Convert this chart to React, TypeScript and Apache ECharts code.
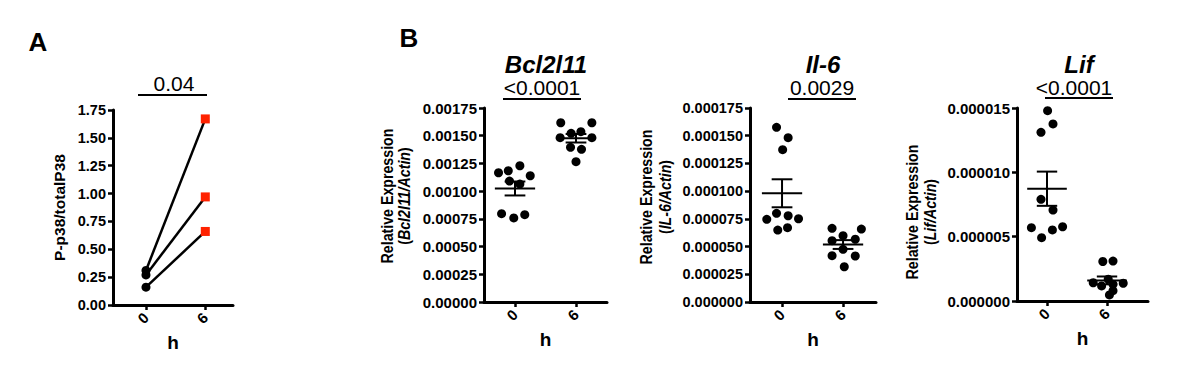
import React, { useEffect, useRef } from "react";
import * as echarts from "echarts";

// ---------- data ----------
const hours = ["0", "6"];

// Panel A: P-p38 / total P38, paired samples
const p38At0h = [0.31, 0.27, 0.16];
const p38At6h = [1.67, 0.97, 0.66];
const pValueA = "0.04";

// Panel B: Bcl2l11
const bcl0h = [0.001166, 0.001184, 0.001229, 0.001139, 0.001091, 0.001064, 0.000797, 0.000758, 0.000788];
const bcl0hJitter = [-0.27, -0.11, 0.08, 0.25, -0.09, 0.08, -0.22, -0.02, 0.16];
const bcl6h = [0.001617, 0.001617, 0.001522, 0.001536, 0.001482, 0.001482, 0.001395, 0.001377, 0.001266];
const bcl6hJitter = [-0.25, 0.26, -0.08, 0.08, -0.26, 0.26, -0.09, 0.09, 0];

// Panel B: Il-6
const il0h = [0.0001576, 0.0001482, 0.0001374, 0.0000746, 0.00008, 0.0000778, 0.0000751, 0.0000649, 0.000067];
const il0hJitter = [-0.09, 0.1, 0.01, -0.25, -0.09, 0.1, 0.27, -0.07, 0.09];
const il6h = [0.0000665, 0.0000658, 0.0000598, 0.0000566, 0.0000553, 0.0000475, 0.0000418, 0.0000415, 0.0000318];
const il6hJitter = [-0.18, 0.3, 0, 0.2, -0.18, 0, -0.18, 0.2, 0.02];

// Panel B: Lif
const lif0h = [0.00001479, 0.00001376, 0.00001311, 0.0000079, 0.00000707, 0.0000057, 0.00000492, 0.00000552, 0.00000577];
const lif0hJitter = [0.01, 0.1, -0.1, -0.1, 0.1, -0.26, -0.09, 0.09, 0.26];
const lif6h = [0.00000307, 0.0000031, 0.00000142, 0.00000117, 0.0000013, 0.00000138, 0.00000047, 0.0000008, 0.00000169];
const lif6hJitter = [-0.07, 0.1, -0.23, -0.09, 0.1, 0.27, 0.04, 0.1, 0.02];

const geneNames = ["Bcl2l11", "Il-6", "Lif"];
const geneAxisNames = ["Bcl2l11/Actin", "IL-6/Actin", "Lif/Actin"];
const pValuesB = ["<0.0001", "0.0029", "<0.0001"];

// y axis scales (tick labels)
const yMaxes = [1.75, 0.00175, 0.000175, 0.000015];
const yIntervals = [0.25, 0.00025, 0.000025, 0.000005];
const yDecimals = [2, 5, 6, 6];

// ---------- helpers ----------
const FONT = "'Liberation Sans', Arial, Helvetica, sans-serif";
const mean = (a: number[]) => a.reduce((s, v) => s + v, 0) / a.length;
const sem = (a: number[]) => {
  const m = mean(a);
  const v = a.reduce((s, x) => s + (x - m) * (x - m), 0) / (a.length - 1);
  return Math.sqrt(v / a.length);
};

// layout
const grids = [
  { left: 113, top: 110, width: 120, height: 195 },
  { left: 484, top: 108, width: 123, height: 194 },
  { left: 750, top: 108, width: 126, height: 194 },
  { left: 1017, top: 108, width: 131, height: 193 },
];
const xRanges = [
  [-0.556, 1.467],
  [-0.508, 1.508],
  [-0.525, 1.54],
  [-0.5, 1.683],
];
// y-axis title positions for panels B (line 1 x, line 2 x, centre y)
const yTitlePos = [
  [387, 404, 196],
  [646, 665, 197],
  [912, 930, 212],
];

export default function App() {
  const ref = useRef<HTMLDivElement>(null);
  useEffect(() => {
    document.body.style.margin = "0";
    if (!ref.current) return;
    const chart = echarts.init(ref.current, undefined, { renderer: "svg" });

    const xAxis = grids.map((_, i) => ({
      type: "value",
      gridIndex: i,
      min: xRanges[i][0],
      max: xRanges[i][1],
      splitLine: { show: false },
      axisLine: { onZero: false, lineStyle: { color: "#000", width: 3 } },
      axisTick: { customValues: [0, 1], length: 5, lineStyle: { color: "#000", width: 2.5 } },
      axisLabel: {
        customValues: [0, 1],
        formatter: (v: number) => hours[Math.round(v)],
        rotate: 45,
        fontSize: 15,
        fontWeight: "bold",
        color: "#000",
        fontFamily: FONT,
        margin: 10,
      },
      name: "h",
      nameLocation: "middle",
      nameGap: 28,
      nameTextStyle: { fontSize: 19, fontWeight: "bold", color: "#000", fontFamily: FONT },
    }));

    const yAxis = grids.map((_, i) => ({
      type: "value",
      gridIndex: i,
      min: 0,
      max: yMaxes[i],
      interval: yIntervals[i],
      splitLine: { show: false },
      axisLine: { show: true, onZero: false, lineStyle: { color: "#000", width: 3 } },
      axisTick: { show: true, length: 5, lineStyle: { color: "#000", width: 2.5 } },
      axisLabel: {
        formatter: (v: number) => v.toFixed(yDecimals[i]),
        fontSize: i === 0 || i === 2 ? 14.5 : 15,
        fontWeight: "bold",
        color: "#000",
        fontFamily: FONT,
        margin: 7,
      },
      ...(i === 0
        ? {
            name: "P-p38/totalP38",
            nameLocation: "middle",
            nameRotate: 90,
            nameGap: 46,
            nameTextStyle: { fontSize: 15.5, fontWeight: "bold", color: "#000", fontFamily: FONT },
          }
        : {}),
    }));

    const series: any[] = [];
    // Panel A paired lines
    p38At0h.forEach((v, k) => {
      series.push({
        type: "line",
        xAxisIndex: 0,
        yAxisIndex: 0,
        data: [
          [0, v],
          [1, p38At6h[k]],
        ],
        symbol: "none",
        lineStyle: { color: "#000", width: 2.5 },
        z: 2,
      });
    });
    series.push({
      type: "scatter",
      xAxisIndex: 0,
      yAxisIndex: 0,
      data: p38At0h.map((v) => [0, v]),
      symbol: "circle",
      symbolSize: 9,
      itemStyle: { color: "#000", opacity: 1 },
      z: 3,
    });
    series.push({
      type: "scatter",
      xAxisIndex: 0,
      yAxisIndex: 0,
      data: p38At6h.map((v) => [1, v]),
      symbol: "rect",
      symbolSize: 9,
      itemStyle: { color: "#ff2200", opacity: 1 },
      z: 3,
    });

    const groupsB = [
      [bcl0h, bcl0hJitter, bcl6h, bcl6hJitter],
      [il0h, il0hJitter, il6h, il6hJitter],
      [lif0h, lif0hJitter, lif6h, lif6hJitter],
    ];
    groupsB.forEach(([v0, j0, v6, j6], g) => {
      const idx = g + 1;
      series.push({
        type: "scatter",
        xAxisIndex: idx,
        yAxisIndex: idx,
        data: v0.map((v, k) => [0 + j0[k], v]),
        symbol: "circle",
        symbolSize: 9,
        itemStyle: { color: "#000", opacity: 1 },
        z: 2,
      });
      series.push({
        type: "scatter",
        xAxisIndex: idx,
        yAxisIndex: idx,
        data: v6.map((v, k) => [1 + j6[k], v]),
        symbol: "circle",
        symbolSize: 9,
        itemStyle: { color: "#000", opacity: 1 },
        z: 2,
      });
      series.push({
        type: "custom",
        xAxisIndex: idx,
        yAxisIndex: idx,
        encode: { x: 0, y: 1 },
        data: [
          [0, mean(v0), sem(v0)],
          [1, mean(v6), sem(v6)],
        ],
        z: 4,
        renderItem: (params: any, api: any) => {
          const x = api.value(0);
          const m = api.value(1);
          const s = api.value(2);
          const c = api.coord([x, m]);
          const top = api.coord([x, m + s])[1];
          const bot = api.coord([x, m - s])[1];
          const half = api.size([0.33, 0])[0];
          const cap = api.size([0.17, 0])[0];
          const st = { stroke: "#000", lineWidth: 2 };
          return {
            type: "group",
            children: [
              { type: "line", shape: { x1: c[0] - half, y1: c[1], x2: c[0] + half, y2: c[1] }, style: st },
              { type: "line", shape: { x1: c[0], y1: top, x2: c[0], y2: bot }, style: st },
              { type: "line", shape: { x1: c[0] - cap, y1: top, x2: c[0] + cap, y2: top }, style: st },
              { type: "line", shape: { x1: c[0] - cap, y1: bot, x2: c[0] + cap, y2: bot }, style: st },
            ],
          };
        },
      });
    });

    const txt = (x: number, y: number, text: string, size: number, extra: any = {}, rotation = 0, scaleY = 1) => ({
      type: "text",
      x,
      y,
      rotation,
      scaleY,
      style: {
        text,
        fontSize: size,
        fontFamily: FONT,
        fill: "#000",
        align: "center",
        verticalAlign: "middle",
        ...extra,
      },
    });
    const hline = (x1: number, x2: number, y: number) => ({
      type: "line",
      shape: { x1, y1: y, x2, y2: y },
      style: { stroke: "#000", lineWidth: 2 },
    });

    const rich = {
      n: { fontSize: 14.2, fontFamily: FONT, fill: "#000", fontWeight: "bold" },
      it: { fontSize: 14.2, fontFamily: FONT, fill: "#000", fontWeight: "bold", fontStyle: "italic" },
    };
    const yTitles = yTitlePos.flatMap(([x1, x2, yc], g) => [
      txt(x1, yc, "Relative Expression", 14.2, { fontWeight: "bold" }, Math.PI / 2, 1.12),
      txt(x2, yc, "{n|(}{it|" + geneAxisNames[g] + "}{n|)}", 14.2, { rich, fontWeight: "bold" }, Math.PI / 2, 1.12),
    ]);

    const graphic = [
      txt(38, 42, "A", 26, { fontWeight: "bold" }),
      txt(409, 38, "B", 26, { fontWeight: "bold" }),
      txt(174, 83, pValueA, 21),
      hline(138, 207, 95),
      txt(546, 64, geneNames[0], 24, { fontStyle: "italic", fontWeight: "bold" }),
      txt(542, 87, pValuesB[0], 21),
      hline(503, 581, 99),
      txt(823, 64, geneNames[1], 24, { fontStyle: "italic", fontWeight: "bold" }),
      txt(822, 87, pValuesB[1], 21),
      hline(788, 856, 99),
      txt(1079, 64, geneNames[2], 24, { fontStyle: "italic", fontWeight: "bold" }),
      txt(1074, 87, pValuesB[2], 21),
      hline(1045, 1113, 98),
      ...yTitles,
    ];

    chart.setOption({
      animation: false,
      backgroundColor: "#fff",
      grid: grids,
      xAxis,
      yAxis,
      series,
      graphic,
    });
    return () => chart.dispose();
  }, []);
  return <div ref={ref} style={{ width: 1200, height: 375 }} />;
}
